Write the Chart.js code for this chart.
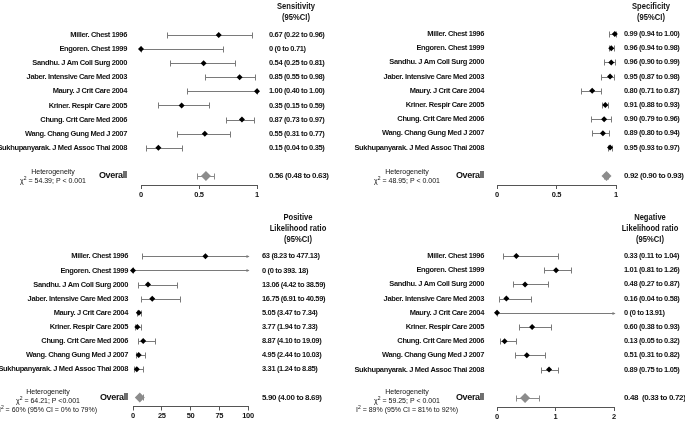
<!DOCTYPE html>
<html>
<head>
<meta charset="utf-8">
<script src="https://cdn.jsdelivr.net/npm/chart.js@4.4.1/dist/chart.umd.min.js"></script>
<style>
    html, body { margin: 0; padding: 0; background: #fff; }
    #wrap {
        position: relative; width: 685px; height: 425px; overflow: hidden;
        font-family: 'Liberation Sans', Arial, sans-serif;
        color: #111;
    }
    .panel { position: absolute; }
    .head {
        position: absolute; width: 120px; text-align: center;
        font-weight: bold; font-size: 9.5px; line-height: 11px;
        transform: scaleX(0.8);
    }
    .het {
        position: absolute; width: 140px; text-align: center; white-space: nowrap;
        font-size: 7px; line-height: 9px;
    }
    .het sup { font-size: 5px; line-height: 0; vertical-align: 3px; }
</style>
</head>
<body>
<div id="wrap">
    <div class="panel" style="left:0;top:0;width:345px;height:212px"><canvas id="sens"></canvas></div>
    <div class="panel" style="left:345px;top:0;width:340px;height:212px"><canvas id="spec"></canvas></div>
    <div class="panel" style="left:0;top:222px;width:345px;height:203px"><canvas id="plr"></canvas></div>
    <div class="panel" style="left:345px;top:222px;width:340px;height:203px"><canvas id="nlr"></canvas></div>

    <div class="head" style="left:236px;top:0">Sensitivity<br>(95%CI)</div>
    <div class="head" style="left:591px;top:0">Specificity<br>(95%CI)</div>
    <div class="head" style="left:238px;top:211px">Positive<br>Likelihood ratio<br>(95%CI)</div>
    <div class="head" style="left:590px;top:211px">Negative<br>Likelihood ratio<br>(95%CI)</div>

    <div class="het" style="left:-17px;top:167px">Heterogeneity<br>χ<sup>2</sup> = 54.39; P &lt; 0.001</div>
    <div class="het" style="left:337px;top:167px">Heterogeneity<br>χ<sup>2</sup> = 48.95; P &lt; 0.001</div>
    <div class="het" style="left:-22px;top:387px">Heterogeneity<br>χ<sup>2</sup> = 64.21; P &lt;0.001<br>I<sup>2</sup> = 60% (95% CI = 0% to 79%)</div>
    <div class="het" style="left:337px;top:387px">Heterogeneity<br>χ<sup>2</sup> = 59.25; P &lt; 0.001<br>I<sup>2</sup> = 89% (95% CI = 81% to 92%)</div>
</div>
<script>
const studies = [
    'Miller. Chest 1996',
    'Engoren. Chest 1999',
    'Sandhu. J Am Coll Surg 2000',
    'Jaber. Intensive Care Med 2003',
    'Maury. J Crit Care 2004',
    'Kriner. Respir Care 2005',
    'Chung. Crit Care Med 2006',
    'Wang. Chang Gung Med J 2007',
    'Sukhupanyarak. J Med Assoc Thai 2008',
];

// Sensitivity
const sensEst = [0.67, 0, 0.54, 0.85, 1.00, 0.35, 0.87, 0.55, 0.15];
const sensLow = [0.22, 0, 0.25, 0.55, 0.40, 0.15, 0.73, 0.31, 0.04];
const sensHigh = [0.96, 0.71, 0.81, 0.98, 1.00, 0.59, 0.97, 0.77, 0.35];
const sensText = ['0.67 (0.22 to 0.96)', '0 (0 to 0.71)', '0.54 (0.25 to 0.81)', '0.85 (0.55 to 0.98)',
    '1.00 (0.40 to 1.00)', '0.35 (0.15 to 0.59)', '0.87 (0.73 to 0.97)', '0.55 (0.31 to 0.77)', '0.15 (0.04 to 0.35)'];
const sensOverall = [0.56, 0.48, 0.63];
const sensOverallText = '0.56 (0.48 to 0.63)';

// Specificity
const specEst = [0.99, 0.96, 0.96, 0.95, 0.80, 0.91, 0.90, 0.89, 0.95];
const specLow = [0.94, 0.94, 0.90, 0.87, 0.71, 0.88, 0.79, 0.80, 0.93];
const specHigh = [1.00, 0.98, 0.99, 0.98, 0.87, 0.93, 0.96, 0.94, 0.97];
const specText = ['0.99 (0.94 to 1.00)', '0.96 (0.94 to 0.98)', '0.96 (0.90 to 0.99)', '0.95 (0.87 to 0.98)',
    '0.80 (0.71 to 0.87)', '0.91 (0.88 to 0.93)', '0.90 (0.79 to 0.96)', '0.89 (0.80 to 0.94)', '0.95 (0.93 to 0.97)'];
const specOverall = [0.92, 0.90, 0.93];
const specOverallText = '0.92 (0.90 to 0.93)';

// Positive likelihood ratio
const plrEst = [63, 0, 13.06, 16.75, 5.05, 3.77, 8.87, 4.95, 3.31];
const plrLow = [8.23, 0, 4.42, 6.91, 3.47, 1.94, 4.10, 2.44, 1.24];
const plrHigh = [477.13, 393.18, 38.59, 40.59, 7.34, 7.33, 19.09, 10.03, 8.85];
const plrText = ['63 (8.23 to 477.13)', '0 (0 to 393. 18)', '13.06 (4.42 to 38.59)', '16.75 (6.91 to 40.59)',
    '5.05 (3.47 to 7.34)', '3.77 (1.94 to 7.33)', '8.87 (4.10 to 19.09)', '4.95 (2.44 to 10.03)', '3.31 (1.24 to 8.85)'];
const plrOverall = [5.90, 4.00, 8.69];
const plrOverallText = '5.90 (4.00 to 8.69)';

// Negative likelihood ratio
const nlrEst = [0.33, 1.01, 0.48, 0.16, 0, 0.60, 0.13, 0.51, 0.89];
const nlrLow = [0.11, 0.81, 0.27, 0.04, 0, 0.38, 0.05, 0.31, 0.75];
const nlrHigh = [1.04, 1.26, 0.87, 0.58, 13.91, 0.93, 0.32, 0.82, 1.05];
const nlrText = ['0.33 (0.11 to 1.04)', '1.01 (0.81 to 1.26)', '0.48 (0.27 to 0.87)', '0.16 (0.04 to 0.58)',
    '0 (0 to 13.91)', '0.60 (0.38 to 0.93)', '0.13 (0.05 to 0.32)', '0.51 (0.31 to 0.82)', '0.89 (0.75 to 1.05)'];
const nlrOverall = [0.48, 0.33, 0.72];
const nlrOverallText = '0.48  (0.33 to 0.72)';

const OVERALL_ROW = 10;

Chart.defaults.font.family = "'Liberation Sans', Arial, sans-serif";
Chart.defaults.color = '#111';
Chart.defaults.animation = false;

// No narrow font is installed, so tighten the letters to get the
// Arial Narrow look of the original.
const narrowText = {
    id: 'narrowText',
    beforeDraw(chart) { chart.ctx.letterSpacing = '-0.35px'; },
};

// Chart.js has no error bars: draw each CI through the x/y scales, with an
// arrow where the upper bound runs past the axis maximum.
const errorBars = {
    id: 'errorBars',
    beforeDatasetsDraw(chart) {
        const { ctx, scales: { x, y } } = chart;
        chart.data.datasets.forEach((ds) => {
            ctx.save();
            ctx.strokeStyle = ds.barColor;
            ctx.fillStyle = ds.barColor;
            ctx.lineWidth = 1;
            ds.data.forEach((pt, i) => {
                const py = Math.round(y.getPixelForValue(pt.y)) + 0.5;
                const clipped = ds.high[i] > x.max;
                const x0 = Math.round(x.getPixelForValue(ds.low[i])) + 0.5;
                const x1 = Math.round(x.getPixelForValue(Math.min(ds.high[i], x.max))) + 0.5;
                ctx.beginPath();
                ctx.moveTo(x0, py);
                ctx.lineTo(x1, py);
                ctx.moveTo(x0, py - 3);
                ctx.lineTo(x0, py + 3);
                if (!clipped) {
                    ctx.moveTo(x1, py - 3);
                    ctx.lineTo(x1, py + 3);
                }
                ctx.stroke();
                if (clipped) {
                    ctx.beginPath();
                    ctx.moveTo(x1 - 2, py - 1.5);
                    ctx.lineTo(x1 + 1, py);
                    ctx.lineTo(x1 - 2, py + 1.5);
                    ctx.closePath();
                    ctx.fill();
                }
            });
            ctx.restore();
        });
    },
};

function forest(id, p) {
    // Rows 0-8 are the studies, a blank row, then the pooled estimate.
    const rowTicks = (scale) => {
        scale.ticks = [0, 1, 2, 3, 4, 5, 6, 7, 8, OVERALL_ROW].map((v) => ({ value: v }));
    };
    const rowAxis = {
        type: 'linear',
        reverse: true,
        min: -1.1,
        max: 10.64,
        grid: { display: false, drawTicks: false },
        border: { display: false },
        afterBuildTicks: rowTicks,
    };

    new Chart(document.getElementById(id), {
        type: 'scatter',
        data: {
            datasets: [
                {
                    data: p.est.map((v, i) => ({ x: v, y: i })),
                    low: p.low,
                    high: p.high,
                    barColor: '#7a7a7a',
                    pointStyle: 'rectRot',
                    pointRadius: 3,
                    backgroundColor: '#000',
                    borderColor: '#000',
                    borderWidth: 0,
                    clip: false,
                },
                {
                    data: [{ x: p.overall[0], y: OVERALL_ROW }],
                    low: [p.overall[1]],
                    high: [p.overall[2]],
                    barColor: '#8a8a8a',
                    pointStyle: 'rectRot',
                    pointRadius: 5,
                    backgroundColor: '#8c8c8c',
                    borderColor: '#8c8c8c',
                    borderWidth: 0,
                    clip: false,
                },
            ],
        },
        options: {
            responsive: true,
            maintainAspectRatio: false,
            layout: { padding: { top: 8, left: 0, right: 0, bottom: 0 } },
            plugins: { legend: { display: false }, tooltip: { enabled: false } },
            scales: {
                x: {
                    type: 'linear',
                    min: 0,
                    max: p.xMax,
                    ticks: {
                        stepSize: p.step,
                        padding: 1,
                        font: { size: 7.5, weight: 'bold' },
                        maxRotation: 0,
                        callback: (v) => String(v),
                    },
                    grid: { drawOnChartArea: false, drawTicks: true, tickLength: 4, color: '#555' },
                    border: { display: true, color: '#555' },
                    afterFit: (scale) => { scale.height = p.height - 185; },
                },
                y: {
                    ...rowAxis,
                    position: 'left',
                    ticks: {
                        padding: p.labelPad,
                        font: (ctx) => (ctx.tick && ctx.tick.value === OVERALL_ROW)
                            ? { size: 9, weight: 'bold' }
                            : { size: 7.5, weight: 'bold' },
                        callback: (v) => (v === OVERALL_ROW ? 'Overall' : studies[v]),
                    },
                    afterFit: (scale) => { scale.width = p.areaLeft; },
                },
                // Second row axis on the right carries the estimate (95%CI) text.
                y2: {
                    ...rowAxis,
                    position: 'right',
                    ticks: {
                        padding: p.valuePad,
                        font: (ctx) => (ctx.tick && ctx.tick.value === OVERALL_ROW)
                            ? { size: 8, weight: 'bold' }
                            : { size: 7.5, weight: 'bold' },
                        callback: (v) => (v === OVERALL_ROW ? p.overallText : p.text[v]),
                    },
                    afterFit: (scale) => { scale.width = p.width - p.areaRight; },
                },
            },
        },
        plugins: [narrowText, errorBars],
    });
}

forest('sens', {
    est: sensEst, low: sensLow, high: sensHigh, text: sensText,
    overall: sensOverall, overallText: sensOverallText,
    xMax: 1, step: 0.5, width: 345, height: 212,
    areaLeft: 141, areaRight: 257, labelPad: 14, valuePad: 12,
});
forest('spec', {
    est: specEst, low: specLow, high: specHigh, text: specText,
    overall: specOverall, overallText: specOverallText,
    xMax: 1, step: 0.5, width: 340, height: 212,
    areaLeft: 152, areaRight: 271, labelPad: 13, valuePad: 8,
});
forest('plr', {
    est: plrEst, low: plrLow, high: plrHigh, text: plrText,
    overall: plrOverall, overallText: plrOverallText,
    xMax: 100, step: 25, width: 345, height: 203,
    areaLeft: 133, areaRight: 248, labelPad: 5, valuePad: 14,
});
forest('nlr', {
    est: nlrEst, low: nlrLow, high: nlrHigh, text: nlrText,
    overall: nlrOverall, overallText: nlrOverallText,
    xMax: 2, step: 1, width: 340, height: 203,
    areaLeft: 152, areaRight: 269, labelPad: 13, valuePad: 10,
});
</script>
</body>
</html>
